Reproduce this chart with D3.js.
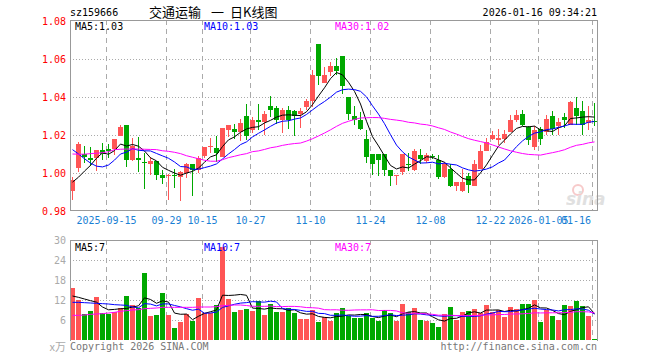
<!DOCTYPE html>
<html>
<head>
<meta charset="utf-8">
<script src="https://cdn.jsdelivr.net/npm/d3@7"></script>
<style>
	body { margin: 0; background: #fff; }
	svg text { font-family: "DejaVu Sans Mono", monospace; font-size: 10px; }
</style>
</head>
<body>
<div id="forSvg"></div>
<script>
var dates = ["2025-09-05","2025-09-08","2025-09-09","2025-09-10","2025-09-11","2025-09-12","2025-09-15","2025-09-16","2025-09-17","2025-09-18",
	"2025-09-19","2025-09-22","2025-09-23","2025-09-24","2025-09-25","2025-09-26","2025-09-29","2025-09-30","2025-10-09","2025-10-10",
	"2025-10-13","2025-10-14","2025-10-15","2025-10-16","2025-10-17","2025-10-20","2025-10-21","2025-10-22","2025-10-23","2025-10-24",
	"2025-10-27","2025-10-28","2025-10-29","2025-10-30","2025-10-31","2025-11-03","2025-11-04","2025-11-05","2025-11-06","2025-11-07",
	"2025-11-10","2025-11-11","2025-11-12","2025-11-13","2025-11-14","2025-11-17","2025-11-18","2025-11-19","2025-11-20","2025-11-21",
	"2025-11-24","2025-11-25","2025-11-26","2025-11-27","2025-11-28","2025-12-01","2025-12-02","2025-12-03","2025-12-04","2025-12-05",
	"2025-12-08","2025-12-09","2025-12-10","2025-12-11","2025-12-12","2025-12-15","2025-12-16","2025-12-17","2025-12-18","2025-12-19",
	"2025-12-22","2025-12-23","2025-12-24","2025-12-25","2025-12-26","2025-12-29","2025-12-30","2025-12-31","2026-01-05","2026-01-06",
	"2026-01-07","2026-01-08","2026-01-09","2026-01-12","2026-01-13","2026-01-14","2026-01-15","2026-01-16"];

var opens = [0.9903,1.0024,1.0100,1.0080,1.0080,1.0123,1.0126,1.0126,1.0193,1.0254,
	1.0070,1.0080,1.0057,1.0046,1.0061,0.9991,0.9982,0.9991,0.9978,1.0000,
	1.0049,1.0017,1.0087,1.0138,1.0133,1.0086,1.0224,1.0233,1.0217,1.0301,
	1.0228,1.0277,1.0271,1.0354,1.0342,1.0277,1.0333,1.0324,1.0312,1.0347,
	1.0377,1.0680,1.0473,1.0529,1.0564,1.0617,1.0398,1.0301,1.0280,1.0179,
	1.0102,1.0102,1.0102,1.0014,0.9982,1.0007,1.0047,1.0014,1.0093,1.0061,
	1.0088,1.0067,0.9981,1.0021,0.9930,0.9903,0.9982,0.9929,1.0021,1.0114,
	1.0179,1.0175,1.0179,1.0214,1.0277,1.0312,1.0242,1.0137,1.0232,1.0214,
	1.0298,1.0249,1.0295,1.0254,1.0342,1.0324,1.0263,1.0272];
var highs = [0.9979,1.0165,1.0144,1.0138,1.0123,1.0158,1.0153,1.0180,1.0254,1.0254,
	1.0186,1.0191,1.0105,1.0084,1.0061,1.0017,0.9995,1.0020,1.0012,1.0053,
	1.0049,1.0087,1.0135,1.0184,1.0193,1.0237,1.0254,1.0259,1.0283,1.0365,
	1.0295,1.0365,1.0324,1.0407,1.0354,1.0342,1.0354,1.0333,1.0342,1.0389,
	1.0543,1.0680,1.0559,1.0584,1.0605,1.0617,1.0401,1.0354,1.0319,1.0228,
	1.0102,1.0102,1.0102,1.0014,0.9991,1.0102,1.0105,1.0126,1.0126,1.0107,
	1.0100,1.0096,1.0059,1.0050,0.9951,1.0021,1.0000,1.0070,1.0149,1.0184,
	1.0223,1.0232,1.0228,1.0305,1.0330,1.0333,1.0249,1.0245,1.0244,1.0307,
	1.0324,1.0289,1.0316,1.0377,1.0400,1.0377,1.0351,1.0368];
var lows = [0.9856,1.0003,1.0053,1.0035,1.0008,1.0070,1.0079,1.0096,1.0193,1.0032,
	1.0061,1.0007,0.9917,0.9991,0.9965,0.9944,0.9856,0.9920,0.9854,0.9974,
	0.9877,1.0000,1.0079,1.0105,1.0059,1.0086,1.0191,1.0180,1.0170,1.0175,
	1.0210,1.0228,1.0201,1.0295,1.0259,1.0210,1.0231,1.0196,1.0237,1.0333,
	1.0350,1.0464,1.0473,1.0508,1.0517,1.0417,1.0280,1.0254,1.0228,1.0053,
	0.9991,0.9986,0.9982,0.9933,0.9938,0.9991,1.0008,1.0008,1.0049,1.0054,
	1.0072,0.9970,0.9973,0.9926,0.9903,0.9898,0.9894,0.9929,1.0021,1.0114,
	1.0175,1.0149,1.0159,1.0214,1.0270,1.0249,1.0149,1.0119,1.0149,1.0202,
	1.0202,1.0202,1.0237,1.0254,1.0254,1.0202,1.0228,1.0245];
var closes = [0.9962,1.0153,1.0082,1.0070,1.0123,1.0102,1.0116,1.0179,1.0242,1.0070,
	1.0144,1.0070,1.0053,1.0062,0.9991,0.9974,0.9991,0.9982,1.0003,1.0049,
	1.0017,1.0079,1.0135,1.0144,1.0104,1.0235,1.0254,1.0214,1.0263,1.0193,
	1.0277,1.0271,1.0312,1.0333,1.0277,1.0329,1.0280,1.0301,1.0324,1.0377,
	1.0517,1.0508,1.0517,1.0564,1.0538,1.0456,1.0312,1.0277,1.0233,1.0084,
	1.0049,1.0070,1.0014,0.9982,0.9991,1.0102,1.0044,1.0114,1.0075,1.0093,
	1.0084,0.9981,1.0049,0.9929,0.9951,0.9951,0.9938,1.0049,1.0114,1.0161,
	1.0202,1.0182,1.0205,1.0277,1.0307,1.0254,1.0172,1.0224,1.0179,1.0284,
	1.0232,1.0270,1.0277,1.0372,1.0298,1.0254,1.0281,1.0266];
// volume, 万
var volumes = [15.5,11.9,7.7,8.7,13.0,8.2,7.7,8.3,9.7,13.3,
	10.5,9.5,20.2,7.3,7.6,14.2,7.6,3.7,5.5,7.9,
	5.8,12.7,8.0,8.0,10.5,28.0,12.3,8.5,9.0,9.3,
	8.8,11.7,7.5,10.8,8.3,8.5,9.5,8.2,6.3,6.3,
	9.0,5.5,6.8,5.7,8.2,9.6,7.3,6.6,6.6,8.1,
	6.6,5.7,8.9,8.1,5.7,10.8,8.4,9.6,6.0,5.7,
	5.1,3.9,7.7,9.9,6.0,8.4,8.7,9.3,8.0,10.5,
	8.4,8.9,6.9,9.9,9.2,10.8,10.8,12.0,5.4,9.0,
	7.2,6.0,10.5,10.2,11.7,10.2,7.2,0.3];

// moving average values before enough days are in view
var ma5Head = [0.9952,0.9978,1.0010,1.0040];
var ma10Head = [1.0123,1.0100,1.0075,1.0052,1.0036,1.0032,1.0042,1.0068,1.0100];
var ma30Head = [1.0100,1.0099,1.0099,1.0102,1.0104,1.0107,1.0112,1.0123,1.0125,1.0126,
	1.0126,1.0126,1.0125,1.0124,1.0123,1.0117,1.0114,1.0109,1.0102,1.0091,
	1.0083,1.0075,1.0067,1.0062,1.0062,1.0070,1.0081,1.0088,1.0096];
var vma5Head = [13.2,12.8,12.3,11.8];
var vma10Head = [11.3,11.3,11.2,11.1,11.0,10.9,10.8,10.6,10.5];
var vma30Head = [7.4,7.4,7.5,7.7,7.8,7.9,8.1,8.3,8.6,8.8,
	9.0,9.1,9.4,9.5,9.6,9.8,9.8,9.8,9.8,9.8,
	9.8,9.9,9.9,9.9,10.0,10.3,10.4,10.5,10.5];

var priceTicks = [0.98,1.00,1.02,1.04,1.06,1.08];
var volTicks = [6,12,18,24,30];
var tickDates = ["2025-09-15","2025-09-29","2025-10-15","2025-10-27","2025-11-10","2025-11-24","2025-12-08","2025-12-22","2026-01-05","2026-01-16"];
var tickLabels = ["2025-09-15","09-29","10-15","10-27","11-10","11-24","12-08","12-22","2026-01-05","01-16"];
var titleParts = ["交通运输", "一", "日K线图"];
var priceMaLabels = ["MA5:1.03","MA10:1.03","MA30:1.02"];
var volMaLabels = ["MA5:7","MA10:7","MA30:7"];
var maColors = ["#000000","#0000ff","#ff00ff"];

var left = 70, right = 597;
var pTop = 20, pBottom = 211, vTop = 240, vBottom = 340;
var red = "#ff5555", green = "#00a800", gridColor = "#aaaaaa";

var svg = d3.select("#forSvg").append("svg")
	.attr("width", 660)
	.attr("height", 360);

var x = d3.scaleBand()
	.domain(d3.range(dates.length))
	.range([69.5, 597.5])
	.paddingInner(1 / 6)
	.paddingOuter(1 / 12);
var bw = x.bandwidth();

var y = d3.scaleLinear().domain([0.98, 1.08]).range([211, 21]);
var yv = d3.scaleLinear().domain([0, 30]).range([340, 240]);

var movingAverage = function(values, n, head) {
	return values.map(function(v, i) {
		if (i < n - 1) return head[i];
		return d3.mean(values.slice(i - n + 1, i + 1));
	});
};

var priceMa = [movingAverage(closes, 5, ma5Head), movingAverage(closes, 10, ma10Head), movingAverage(closes, 30, ma30Head)];
var volMa = [movingAverage(volumes, 5, vma5Head), movingAverage(volumes, 10, vma10Head), movingAverage(volumes, 30, vma30Head)];

var isUp = function(i) { return closes[i] >= opens[i]; };
var tickIdx = tickDates.map(function(d) { return dates.indexOf(d); });

// grids
var grid = svg.append("g").attr("shape-rendering", "crispEdges");
grid.selectAll(".hp").data([1.00, 1.02, 1.04, 1.06]).enter().append("line")
	.attr("x1", left).attr("x2", right)
	.attr("y1", function(d) { return Math.round(y(d)) + 0.5; })
	.attr("y2", function(d) { return Math.round(y(d)) + 0.5; })
	.attr("stroke", gridColor).attr("stroke-dasharray", "1,2");
grid.selectAll(".hv").data([6, 12, 18, 24]).enter().append("line")
	.attr("x1", left).attr("x2", right)
	.attr("y1", function(d) { return Math.round(yv(d)) + 0.5; })
	.attr("y2", function(d) { return Math.round(yv(d)) + 0.5; })
	.attr("stroke", gridColor).attr("stroke-dasharray", "1,2");
[[pTop, pBottom], [vTop, vBottom]].forEach(function(p) {
	grid.selectAll(null).data(tickIdx).enter().append("line")
		.attr("x1", function(i) { return x(i) + 0.5; })
		.attr("x2", function(i) { return x(i) + 0.5; })
		.attr("y1", p[0]).attr("y2", p[1])
		.attr("stroke", gridColor).attr("stroke-dasharray", "5,4");
});

// watermark
var wm = svg.append("g").attr("opacity", 0.55);
wm.append("circle").attr("cx", 578).attr("cy", 190).attr("r", 5).attr("fill", "none").attr("stroke", "#f2a0a0").attr("stroke-width", 2);
wm.append("text").attr("x", 566).attr("y", 205)
	.style("font-family", "DejaVu Sans").style("font-size", "17px").style("font-weight", "bold").style("font-style", "italic")
	.attr("fill", "#c8c8c8").text("sina");

// candles
var candles = svg.append("g").attr("shape-rendering", "crispEdges");
candles.selectAll("line").data(d3.range(dates.length)).enter().append("line")
	.attr("x1", function(i) { return x(i) + 2.5; })
	.attr("x2", function(i) { return x(i) + 2.5; })
	.attr("y1", function(i) { return y(highs[i]); })
	.attr("y2", function(i) { return y(lows[i]); })
	.attr("stroke", function(i) { return isUp(i) ? red : green; });
candles.selectAll("rect").data(d3.range(dates.length)).enter().append("rect")
	.attr("x", function(i) { return x(i); })
	.attr("width", bw)
	.attr("y", function(i) { return y(Math.max(opens[i], closes[i])); })
	.attr("height", function(i) { return Math.max(1, Math.abs(y(opens[i]) - y(closes[i]))); })
	.attr("fill", function(i) { return isUp(i) ? red : green; });

// volume bars
svg.append("g").attr("shape-rendering", "crispEdges")
	.selectAll("rect").data(d3.range(dates.length)).enter().append("rect")
	.attr("x", function(i) { return x(i); })
	.attr("width", bw)
	.attr("y", function(i) { return yv(volumes[i]); })
	.attr("height", function(i) { return yv(0) - yv(volumes[i]); })
	.attr("fill", function(i) { return isUp(i) ? red : green; });

// moving averages
var maLine = function(scale) {
	return d3.line()
		.x(function(d, i) { return x(i) + bw / 2; })
		.y(function(d) { return scale(d); });
};
priceMa.forEach(function(m, k) {
	svg.append("path").attr("d", maLine(y)(m))
		.attr("fill", "none").attr("stroke", maColors[k]).attr("stroke-width", 1);
});
volMa.forEach(function(m, k) {
	svg.append("path").attr("d", maLine(yv)(m))
		.attr("fill", "none").attr("stroke", maColors[k]).attr("stroke-width", 1);
});

// frames
var frame = svg.append("g").attr("shape-rendering", "crispEdges").attr("fill", "none").attr("stroke", "#999999");
frame.append("rect").attr("x", left + 0.5).attr("y", pTop + 0.5).attr("width", right - left).attr("height", pBottom - pTop - 1);
frame.append("path").attr("d", "M" + (left + 0.5) + "," + (vBottom + 1) + "V" + (vTop + 0.5) + "H" + (right + 0.5) + "V" + (vBottom + 1));

// axes
var yAxis = svg.append("g").attr("transform", "translate(66,0)")
	.call(d3.axisLeft(y).tickValues(priceTicks).tickFormat(d3.format(".2f")).tickSize(0).tickPadding(0));
yAxis.select(".domain").remove();
yAxis.selectAll("text").attr("fill", "#ff0000").style("font-size", "10px").style("font-family", "DejaVu Sans Mono");

var vAxis = svg.append("g").attr("transform", "translate(66,0)")
	.call(d3.axisLeft(yv).tickValues(volTicks).tickSize(0).tickPadding(0));
vAxis.select(".domain").remove();
vAxis.selectAll("text").attr("fill", "#aaaaaa").style("font-size", "10px").style("font-family", "DejaVu Sans Mono");

svg.append("text").attr("x", 66).attr("y", 351).attr("text-anchor", "end")
	.attr("fill", "#aaaaaa").style("font-family", "Noto Sans CJK SC").style("font-size", "11px").text("x万");

var xLabels = svg.append("g");
tickIdx.forEach(function(i, k) {
	var t = xLabels.append("text")
		.attr("x", x(i) + 0.5).attr("y", 224)
		.attr("text-anchor", "middle")
		.attr("fill", "#1a7fd4")
		.text(tickLabels[k]);
	var w = t.node().getComputedTextLength();
	if (x(i) + w / 2 > right) t.attr("text-anchor", "end").attr("x", x(i) - 1);
});

// labels
svg.append("text").attr("x", 70).attr("y", 16).text("sz159666");
var titleX = [149, 211, 230];
titleParts.forEach(function(s, k) {
	svg.append("text").attr("x", titleX[k]).attr("y", 17)
		.style("font-family", "Noto Sans CJK SC").style("font-size", "13px")
		.text(s);
});
svg.append("text").attr("x", right).attr("y", 16).attr("text-anchor", "end").text("2026-01-16 09:34:21");

var maX = [75, 204, 335];
priceMaLabels.forEach(function(s, k) {
	svg.append("text").attr("x", maX[k]).attr("y", 30).attr("fill", maColors[k]).text(s);
});
volMaLabels.forEach(function(s, k) {
	svg.append("text").attr("x", maX[k]).attr("y", 251).attr("fill", maColors[k]).text(s);
});

svg.append("text").attr("x", 70).attr("y", 350).attr("fill", "#777777").text("Copyright 2026 SINA.COM");
svg.append("text").attr("x", right).attr("y", 350).attr("text-anchor", "end").attr("fill", "#777777").text("http://finance.sina.com.cn");
</script>
</body>
</html>
